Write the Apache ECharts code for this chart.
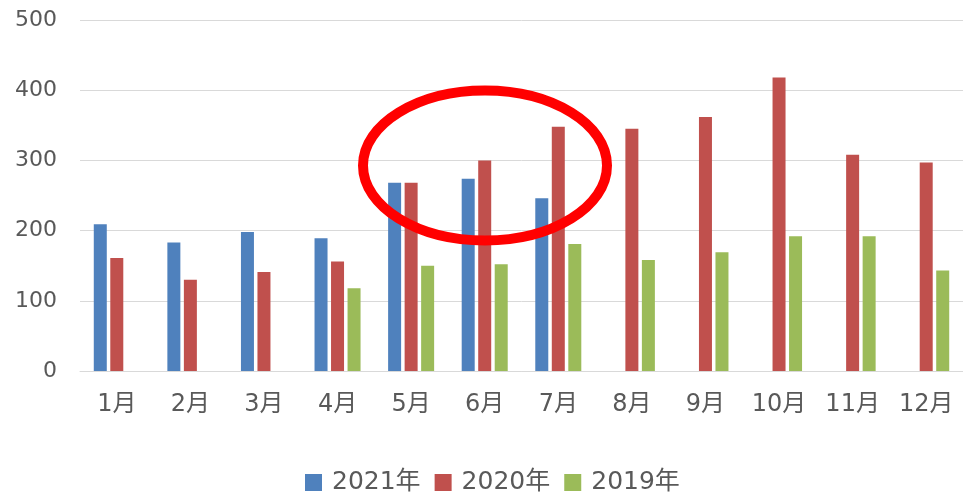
<!DOCTYPE html>
<html>
<head>
<meta charset="utf-8">
<script src="https://cdn.jsdelivr.net/npm/echarts@6/dist/echarts.min.js"></script>
<style>
html,body{margin:0;padding:0;background:#fff;}
#chart{width:963px;height:494px;}
</style>
</head>
<body>
<div id="chart"></div>
<script>
const categories = ['1月','2月','3月','4月','5月','6月','7月','8月','9月','10月','11月','12月'];
const seriesNames = ['2021年','2020年','2019年'];
const data2021 = [209, 183, 198, 189, 268, 274, 246, null, null, null, null, null];
const data2020 = [161, 130, 141, 156, 268, 300, 348, 345, 362, 418, 308, 297];
const data2019 = [null, null, null, 118, 150, 152, 181, 158, 169, 192, 192, 143];
const yTicks = [0, 100, 200, 300, 400, 500];
const colors = ['#4F81BD', '#C0504D', '#9BBB59'];

const chart = echarts.init(document.getElementById('chart'), null, {renderer: 'canvas'});
const font = "'DejaVu Sans', 'Noto Sans CJK SC', sans-serif";
const mkSeries = (name, data, color) => ({
  name: name,
  type: 'bar',
  data: data,
  barWidth: 13,
  barGap: '27%',
  itemStyle: {color: color},
  emphasis: {disabled: true}
});
chart.setOption({
  animation: false,
  backgroundColor: '#ffffff',
  grid: {left: 80, top: 20, width: 888, height: 351, containLabel: false},
  xAxis: {
    type: 'category',
    data: categories,
    axisLine: {show: true, lineStyle: {color: '#d9d9d9', width: 1}},
    axisTick: {show: false},
    axisLabel: {color: '#595959', fontSize: 24, fontFamily: font, margin: 22}
  },
  yAxis: {
    type: 'value',
    min: yTicks[0],
    max: yTicks[yTicks.length - 1],
    interval: 100,
    axisLine: {show: false},
    axisTick: {show: false},
    splitLine: {lineStyle: {color: '#d9d9d9', width: 1}},
    axisLabel: {color: '#595959', fontSize: 22, fontFamily: font, margin: 23}
  },
  legend: {
    top: 470,
    left: 305,
    padding: 0,
    icon: 'rect',
    itemWidth: 17,
    itemHeight: 17,
    itemGap: 14,
    textStyle: {color: '#595959', fontSize: 25, fontFamily: font, padding: [0, 0, 0, 5]},
    data: seriesNames
  },
  series: [
    mkSeries(seriesNames[0], data2021, colors[0]),
    mkSeries(seriesNames[1], data2020, colors[1]),
    mkSeries(seriesNames[2], data2019, colors[2])
  ],
  graphic: [{
    type: 'ellipse',
    shape: {cx: 485, cy: 165.5, rx: 122, ry: 75},
    style: {fill: 'none', stroke: '#ff0000', lineWidth: 10},
    z: 100
  }]
});
</script>
</body>
</html>
